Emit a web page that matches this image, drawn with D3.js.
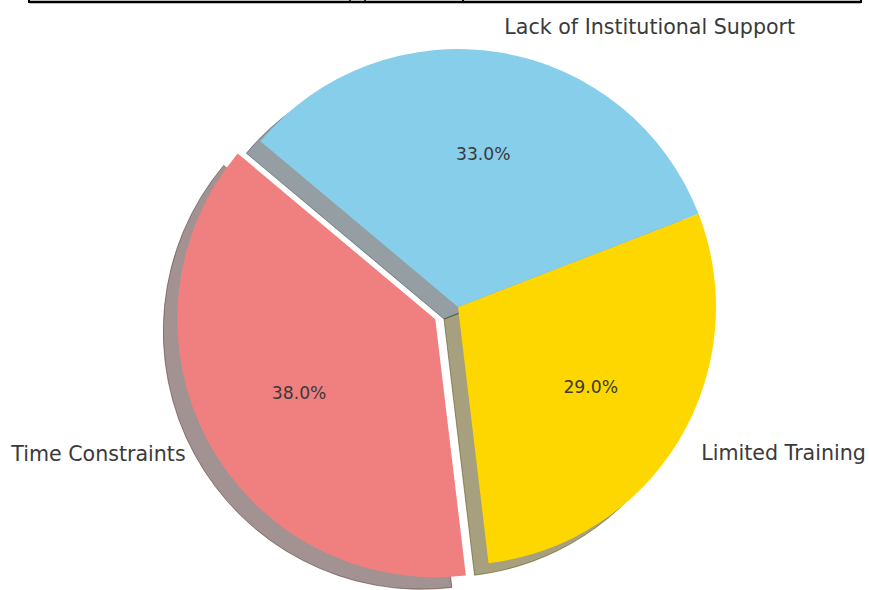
<!DOCTYPE html>
<html>
<head>
<meta charset="utf-8">
<script src="https://cdn.jsdelivr.net/npm/d3@7"></script>
<style>
  body { margin: 0; background: #fff; }
  svg { display: block; font-family: "DejaVu Sans", sans-serif; }
</style>
</head>
<body>
<svg id="viz" width="869" height="590"></svg>
<script>
// ----------------------- DATA
const labels = ['Time Constraints', 'Limited Training', 'Lack of Institutional Support'];
const values = [38, 29, 33];
const colors = ['#f08080', '#ffd700', '#87ceeb'];
const explode = [0.1, 0, 0];

// ----------------------- SETTINGS
const width = 869, height = 590;
const cx = 458, cy = 307, r = 258;
const startDeg = 140; // matplotlib style, counterclockwise from 3 o'clock
const shadowDx = -14, shadowDy = 12;

const svg = d3.select('#viz');

// table border fragment cut off at the top
const border = svg.append('g').attr('stroke', '#000').attr('fill', 'none');
border.append('line').attr('x1', 29).attr('x2', 861).attr('y1', 2).attr('y2', 2).attr('stroke-width', 2.5);
[29, 350, 365, 463, 861].forEach((x, i) => {
  border.append('line').attr('x1', x).attr('x2', x).attr('y1', 0).attr('y2', 3)
    .attr('stroke-width', i === 1 || i === 2 ? 1.5 : 2);
});

// d3 angle: 0 at 12 o'clock, clockwise. counterclockwise => decreasing
const a0 = (90 - startDeg) * Math.PI / 180;
const pie = d3.pie().sort(null).value(d => d.value)
  .startAngle(a0).endAngle(a0 - 2 * Math.PI);

const data = pie(labels.map((l, i) => ({ label: l, value: values[i], color: colors[i], ex: explode[i] })));

const arc = d3.arc().innerRadius(0).outerRadius(r);

const dir = d => {
  const m = (d.startAngle + d.endAngle) / 2;
  return [Math.sin(m), -Math.cos(m)];
};
const offset = d => {
  const [ux, uy] = dir(d);
  return [ux * d.data.ex * r, uy * d.data.ex * r];
};
const shadowColor = c => {
  const k = d3.rgb(c);
  return d3.rgb(k.r * 0.3, k.g * 0.3, k.b * 0.3);
};

const g = svg.append('g').attr('transform', `translate(${cx},${cy})`);

// shadows first, under every wedge
g.selectAll('.shadow')
  .data(data)
  .enter().append('path')
  .attr('class', 'shadow')
  .attr('d', arc)
  .attr('transform', d => {
    const [ox, oy] = offset(d);
    return `translate(${ox + shadowDx},${oy + shadowDy})`;
  })
  .attr('fill', d => shadowColor(d.data.color))
  .attr('fill-opacity', 0.5)
  .attr('stroke', d => shadowColor(d.data.color))
  .attr('stroke-opacity', 0.5)
  .attr('stroke-width', 1);

// wedges
g.selectAll('.slice')
  .data(data)
  .enter().append('path')
  .attr('class', 'slice')
  .attr('d', arc)
  .attr('transform', d => `translate(${offset(d)})`)
  .attr('fill', d => d.data.color);

// outer labels
g.selectAll('.label')
  .data(data)
  .enter().append('text')
  .attr('class', 'label')
  .attr('x', d => offset(d)[0] + dir(d)[0] * 1.1 * r)
  .attr('y', d => offset(d)[1] + dir(d)[1] * 1.1 * r)
  .attr('dy', '0.35em')
  .attr('text-anchor', d => dir(d)[0] > 0 ? 'start' : 'end')
  .attr('font-size', 20.6)
  .attr('fill', '#3a3a3a')
  .text(d => d.data.label);

// percentages
const total = d3.sum(values);
g.selectAll('.pct')
  .data(data)
  .enter().append('text')
  .attr('class', 'pct')
  .attr('x', d => offset(d)[0] + dir(d)[0] * 0.6 * r)
  .attr('y', d => offset(d)[1] + dir(d)[1] * 0.6 * r)
  .attr('dy', '0.35em')
  .attr('text-anchor', 'middle')
  .attr('font-size', 17.2)
  .attr('fill', '#3a3a3a')
  .text(d => (d.data.value / total * 100).toFixed(1) + '%');
</script>
</body>
</html>
